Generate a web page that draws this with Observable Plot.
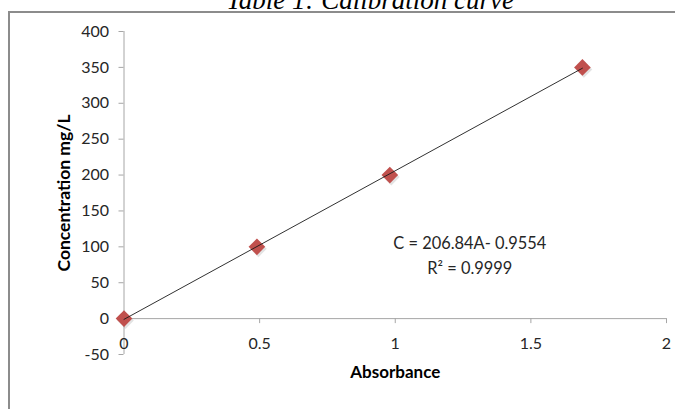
<!DOCTYPE html>
<html>
<head>
<meta charset="utf-8">
<script src="https://cdn.jsdelivr.net/npm/d3@7"></script>
<script src="https://cdn.jsdelivr.net/npm/@observablehq/plot@0.6"></script>
<style>
  html, body { margin: 0; padding: 0; background: #fff; }
  #wrap { position: relative; width: 675px; height: 409px; overflow: hidden; }
  #title { position: absolute; left: 0; width: 740px; text-align: center; top: -15px;
           font: italic 27px "Liberation Serif", "Times New Roman", serif; color: #000; white-space: nowrap; }
  #frame { position: absolute; left: 8px; top: 11px; width: 700px; height: 420px;
           border: 2px solid #8c8c8c; box-sizing: border-box; }
  #chart { position: absolute; left: 0; top: 0; }
</style>
</head>
<body>
<div id="wrap">
  <div id="frame"></div>
  <div id="title">Table 1: Calibration curve</div>
  <div id="chart"></div>
</div>
<script>
// Data
const absorbance = [0, 0.49, 0.98, 1.69];
const concentration = [0, 100, 200, 350];
const xTicks = [0, 0.5, 1, 1.5, 2];
const xTickLabels = ["0", "0.5", "1", "1.5", "2"];
const yTicks = [-50, 0, 50, 100, 150, 200, 250, 300, 350, 400];
const yTickLabels = ["-50", "0", "50", "100", "150", "200", "250", "300", "350", "400"];
const equationLines = ["C = 206.84A- 0.9554", "R\u00B2 = 0.9999"];
const equationX = [1.275, 1.275];
const equationY = [104, 70];
const xTitle = "Absorbance";
const yTitle = "Concentration mg/L";

const points = absorbance.map((a, i) => ({a, c: concentration[i]}));
const eq = equationLines.map((t, i) => ({t, x: equationX[i], y: equationY[i]}));
const font = "Lato, 'Open Sans', sans-serif";
const axisGray = "#a6a6a6";
const textCol = "#262626";

const chart = Plot.plot({
  width: 675,
  height: 409,
  marginLeft: 123.5,
  marginRight: 9,
  marginTop: 31,
  marginBottom: 55,
  style: {fontFamily: font, background: "transparent", overflow: "visible"},
  x: {domain: [0, 2]},
  y: {domain: [-50, 400]},
  marks: [
    Plot.ruleY([0], {stroke: axisGray, strokeWidth: 1}),
    Plot.ruleX([0], {stroke: axisGray, strokeWidth: 1}),
    Plot.ruleX(xTicks, {x: d => d, y1: 0, y2: 0, insetBottom: -5, stroke: axisGray}),
    Plot.axisY(yTicks, {tickSize: 5, tickPadding: 10, stroke: axisGray, fill: textCol, fontSize: 16, label: null,
                        tickFormat: d => yTickLabels[yTicks.indexOf(d)]}),
    Plot.axisX({ticks: [], label: null}),
    Plot.text(xTicks, {x: d => d, y: 0, dy: 25, text: (d, i) => xTickLabels[i], fill: textCol, fontSize: 16, lineAnchor: "middle"}),
    Plot.text([xTitle], {frameAnchor: "bottom", dy: 18, lineAnchor: "middle", textAnchor: "middle", fontWeight: "bold", fontSize: 17, fill: "#000"}),
    Plot.text([yTitle], {frameAnchor: "left", dx: -60, rotate: -90, lineAnchor: "middle", textAnchor: "middle", fontWeight: "bold", fontSize: 17.5, fill: "#000"}),
    Plot.dot(points, {x: "a", y: "c", symbol: "diamond2", r: 7.5, fill: "#7f7f7f", fillOpacity: 0.22, dx: 1.5, dy: 2}),
    Plot.dot(points, {x: "a", y: "c", symbol: "diamond2", r: 7.5, fill: "#c0504d"}),
    Plot.linearRegressionY(points, {x: "a", y: "c", ci: 0, stroke: "#1a1a1a", strokeWidth: 0.9}),
    Plot.text(eq, {x: "x", y: "y", text: "t", fill: textCol, fontSize: 16.4, lineAnchor: "middle"})
  ]
});
document.getElementById("chart").append(chart);
</script>
</body>
</html>
